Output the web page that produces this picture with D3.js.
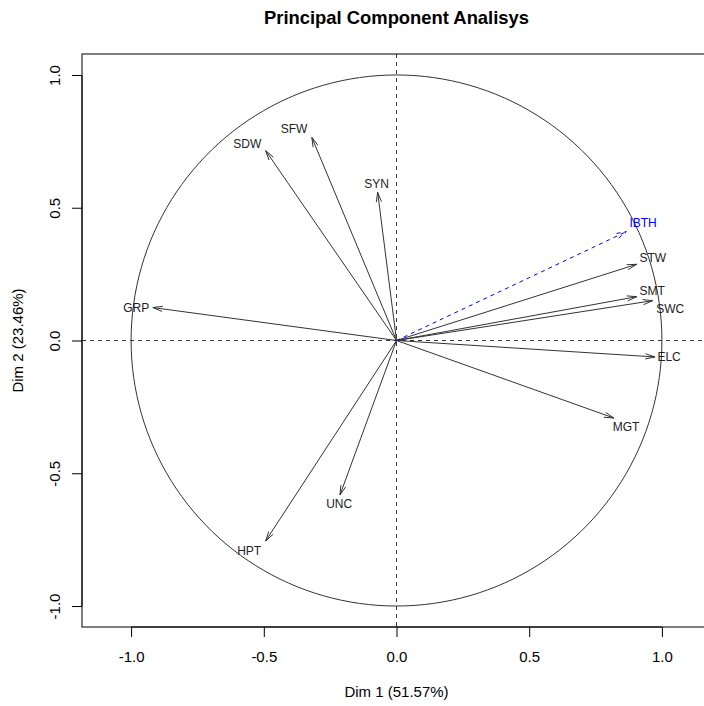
<!DOCTYPE html>
<html>
<head>
<meta charset="utf-8">
<script src="https://cdn.jsdelivr.net/npm/d3@7"></script>
<style>
  html, body { margin: 0; padding: 0; background: #fff; }
  svg { display: block; font-family: "Liberation Sans", Arial, Helvetica, sans-serif; }
</style>
</head>
<body>
<svg id="chart" width="704" height="706"></svg>
<script>
// ---- data ----
const variables = ["GRP", "SDW", "SFW", "SYN", "STW", "SMT", "SWC", "ELC", "MGT", "UNC", "HPT"];
const dim1      = [-0.918, -0.493, -0.319, -0.071, 0.905, 0.905, 0.965, 0.974, 0.819, -0.213, -0.493];
const dim2      = [ 0.124,  0.715,  0.765,  0.558, 0.287, 0.165, 0.150, -0.062, -0.292, -0.582, -0.755];
const labelDim1 = [-0.981, -0.562, -0.386, -0.075, 0.966, 0.963, 1.031, 1.027, 0.865, -0.216, -0.555];
const labelDim2 = [ 0.125,  0.740,  0.797,  0.589, 0.311, 0.188, 0.119, -0.062, -0.325, -0.613, -0.792];

const suppVariables = ["IBTH"];
const suppDim1      = [0.866];
const suppDim2      = [0.410];
const suppLabelDim1 = [0.929];
const suppLabelDim2 = [0.444];

const xTicks = [-1.0, -0.5, 0.0, 0.5, 1.0];
const yTicks = [-1.0, -0.5, 0.0, 0.5, 1.0];
const title  = "Principal Component Analisys";
const xTitle = "Dim 1 (51.57%)";
const yTitle = "Dim 2 (23.46%)";

// ---- layout ----
const svg = d3.select("#chart");
const box = { left: 82, right: 711, top: 54, bottom: 627 };
const xlim = [-1.185, 1.185], ylim = [-1.079, 1.079];
const x = d3.scaleLinear().domain(xlim).range([box.left, box.right]);
const y = d3.scaleLinear().domain(ylim).range([box.bottom, box.top]);

const fmt = v => d3.format(".1f")(v).replace("\u2212", "-");

// title
svg.append("text").attr("x", (box.left + box.right) / 2).attr("y", 24)
  .attr("text-anchor", "middle").attr("font-weight", "bold").attr("font-size", 18.4)
  .attr("fill", "#000").text(title);

// axes
const xAxis = d3.axisBottom(x).tickValues(xTicks).tickFormat(fmt).tickSize(10).tickPadding(14);
const gx = svg.append("g").attr("transform", `translate(0,${box.bottom})`).call(xAxis);
gx.select(".domain").attr("d", `M${x(xTicks[0])},0H${x(xTicks[xTicks.length-1])}`).attr("stroke", "#000");
gx.selectAll("text").attr("font-size", 15).attr("fill", "#000").attr("font-family", "Liberation Sans, Arial, sans-serif");
gx.selectAll("line").attr("stroke", "#000");

const yAxis = d3.axisLeft(y).tickValues(yTicks).tickFormat(fmt).tickSize(10);
const gy = svg.append("g").attr("transform", `translate(${box.left},0)`).call(yAxis);
gy.select(".domain").attr("d", `M0,${y(yTicks[0])}V${y(yTicks[yTicks.length-1])}`).attr("stroke", "#000");
gy.selectAll("line").attr("stroke", "#000");
gy.selectAll(".tick text")
  .attr("font-size", 15).attr("fill", "#000").attr("font-family", "Liberation Sans, Arial, sans-serif")
  .attr("text-anchor", "middle")
  .attr("transform", "translate(-27,0) rotate(-90)")
  .attr("x", 0).attr("y", 0).attr("dy", "0.35em");

// axis titles
svg.append("text").attr("x", (box.left + box.right) / 2).attr("y", 697)
  .attr("text-anchor", "middle").attr("font-size", 15).attr("fill", "#000").text(xTitle);
svg.append("text").attr("transform", `translate(23,${(box.top + box.bottom) / 2}) rotate(-90)`)
  .attr("text-anchor", "middle").attr("font-size", 15).attr("fill", "#000").text(yTitle);

// clip to plot box
svg.append("clipPath").attr("id", "plotclip").append("rect")
  .attr("x", box.left).attr("y", box.top).attr("width", box.right - box.left).attr("height", box.bottom - box.top);
const plot = svg.append("g").attr("clip-path", "url(#plotclip)");

// reference dashed lines
plot.append("line").attr("x1", box.left).attr("x2", box.right).attr("y1", y(0)).attr("y2", y(0))
  .attr("stroke", "#333").attr("stroke-dasharray", "4,4");
plot.append("line").attr("x1", x(0)).attr("x2", x(0)).attr("y1", box.top).attr("y2", box.bottom)
  .attr("stroke", "#333").attr("stroke-dasharray", "4,4");

// unit circle
const circlePts = d3.range(0, 361, 2).map(a => [Math.cos(a * Math.PI / 180), Math.sin(a * Math.PI / 180)]);
plot.append("path").datum(circlePts)
  .attr("d", d3.line().x(d => x(d[0])).y(d => y(d[1])))
  .attr("fill", "none").attr("stroke", "#333").attr("stroke-width", 1);

// arrows
function drawArrow(g, vx, vy, color, dash) {
  const x0 = x(0), y0 = y(0), x1 = x(vx), y1 = y(vy);
  g.append("line").attr("x1", x0).attr("y1", y0).attr("x2", x1).attr("y2", y1)
    .attr("stroke", color).attr("stroke-width", 1).attr("stroke-dasharray", dash);
  const ang = Math.atan2(y1 - y0, x1 - x0);
  const L = 10, a = 15 * Math.PI / 180;
  const p1 = [x1 - L * Math.cos(ang - a), y1 - L * Math.sin(ang - a)];
  const p2 = [x1 - L * Math.cos(ang + a), y1 - L * Math.sin(ang + a)];
  g.append("path").attr("d", `M${p1[0]},${p1[1]}L${x1},${y1}L${p2[0]},${p2[1]}`)
    .attr("fill", "none").attr("stroke", color).attr("stroke-width", 1).attr("stroke-dasharray", dash);
}

const ga = plot.append("g");
variables.forEach((v, i) => drawArrow(ga, dim1[i], dim2[i], "#333", null));
suppVariables.forEach((v, i) => drawArrow(ga, suppDim1[i], suppDim2[i], "#0000FF", "4,4"));

// labels
variables.forEach((v, i) => {
  plot.append("text").attr("x", x(labelDim1[i])).attr("y", y(labelDim2[i]))
    .attr("dy", "0.36em").attr("text-anchor", "middle").attr("font-size", 12).attr("fill", "#222").text(v);
});
suppVariables.forEach((v, i) => {
  plot.append("text").attr("x", x(suppLabelDim1[i])).attr("y", y(suppLabelDim2[i]))
    .attr("dy", "0.36em").attr("text-anchor", "middle").attr("font-size", 12).attr("fill", "#0000FF").text(v);
});

// plot box
svg.append("rect").attr("x", box.left).attr("y", box.top)
  .attr("width", box.right - box.left).attr("height", box.bottom - box.top)
  .attr("fill", "none").attr("stroke", "#000").attr("stroke-width", 1);
</script>
</body>
</html>
